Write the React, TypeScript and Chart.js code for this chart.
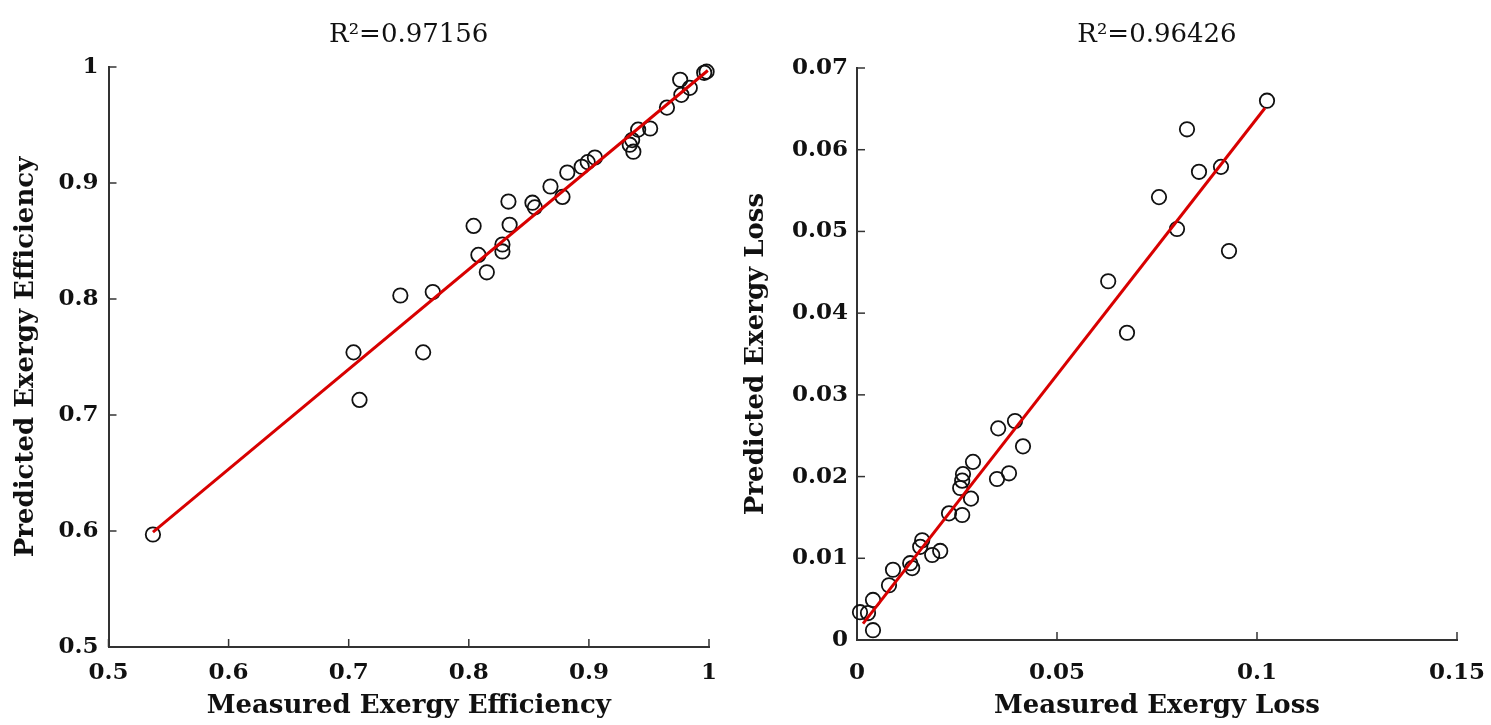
import React, { useEffect, useRef } from "react";
import { Chart, registerables } from "chart.js";

Chart.register(...registerables);
Chart.defaults.font.family = "'DejaVu Serif', serif";
Chart.defaults.color = "#111";

// ---- Left panel: exergy efficiency ----
const effMeasured = [
  0.537, 0.704, 0.709, 0.743, 0.762, 0.770, 0.804, 0.808, 0.815, 0.828, 0.828,
  0.833, 0.834, 0.853, 0.855, 0.868, 0.878, 0.882, 0.894, 0.899, 0.905, 0.934,
  0.937, 0.936, 0.941, 0.951, 0.965, 0.976, 0.977, 0.984, 0.996, 0.998,
];
const effPredicted = [
  0.597, 0.754, 0.713, 0.803, 0.754, 0.806, 0.863, 0.838, 0.823, 0.841, 0.847,
  0.884, 0.864, 0.883, 0.879, 0.897, 0.888, 0.909, 0.914, 0.918, 0.922, 0.933,
  0.927, 0.937, 0.946, 0.947, 0.965, 0.989, 0.976, 0.982, 0.995, 0.996,
];
const effFitX = [0.537, 0.999];
const effFitY = [0.599, 0.997];
const effTicks = [0.5, 0.6, 0.7, 0.8, 0.9, 1];
const effTitle = "R²=0.97156";
const effXLabel = "Measured Exergy Efficiency";
const effYLabel = "Predicted Exergy Efficiency";

// ---- Right panel: exergy loss ----
const lossMeasured = [
  0.1025, 0.0825, 0.0855, 0.091, 0.0755, 0.08, 0.093, 0.0628, 0.0675,
  0.0353, 0.0395, 0.0415, 0.035, 0.038, 0.029, 0.0265, 0.0263, 0.0258, 0.0285,
  0.023, 0.0263, 0.0163, 0.0158, 0.0188, 0.0208, 0.0133, 0.0138, 0.009, 0.008,
  0.004, 0.00075, 0.00275, 0.004,
];
const lossPredicted = [
  0.066, 0.0625, 0.0573, 0.0579, 0.0542, 0.0503, 0.0476, 0.0439, 0.0376,
  0.0259, 0.0268, 0.0237, 0.0197, 0.0204, 0.0218, 0.0203, 0.0195, 0.0186, 0.0173,
  0.0155, 0.0153, 0.0122, 0.0114, 0.0104, 0.0109, 0.0094, 0.0088, 0.0086, 0.0067,
  0.0049, 0.0034, 0.0033, 0.0012,
];
const lossFitX = [0.0015, 0.102];
const lossFitY = [0.002, 0.0651];
const lossXTicks = [0, 0.05, 0.1, 0.15];
const lossYTicks = [0, 0.01, 0.02, 0.03, 0.04, 0.05, 0.06, 0.07];
const lossTitle = "R²=0.96426";
const lossXLabel = "Measured Exergy Loss";
const lossYLabel = "Predicted Exergy Loss";

const innerTicks = {
  id: "innerTicks",
  afterDraw(chart: any) {
    const { ctx, chartArea, scales } = chart;
    const len = 8;
    ctx.save();
    ctx.strokeStyle = "#333";
    ctx.lineWidth = 1.5;
    scales.x.ticks.forEach((t: any) => {
      const px = scales.x.getPixelForValue(t.value);
      ctx.beginPath();
      ctx.moveTo(px, chartArea.bottom);
      ctx.lineTo(px, chartArea.bottom - len);
      ctx.stroke();
    });
    scales.y.ticks.forEach((t: any) => {
      const py = scales.y.getPixelForValue(t.value);
      ctx.beginPath();
      ctx.moveTo(chartArea.left, py);
      ctx.lineTo(chartArea.left + len, py);
      ctx.stroke();
    });
    ctx.restore();
  },
};

type PanelCfg = {
  width: number;
  height: number;
  xs: number[];
  ys: number[];
  fitX: number[];
  fitY: number[];
  xTicks: number[];
  yTicks: number[];
  title: string;
  xLabel: string;
  yLabel: string;
  yWidth: number;
  xHeight: number;
  padRight: number;
  titleTop: number;
  titleBottom: number;
  yTitlePad: number;
  xTitlePad: number;
  xTickPad: number;
  yTickPad: number;
};

function Panel({ cfg, left }: { cfg: PanelCfg; left: number }) {
  const ref = useRef<HTMLCanvasElement | null>(null);
  useEffect(() => {
    if (!ref.current) return;
    const tickFont = { family: "'DejaVu Serif', serif", size: 23, weight: "bold" as const };
    const labelFont = { family: "'DejaVu Serif', serif", size: 26, weight: "bold" as const, lineHeight: 1.2 };
    const chart = new Chart(ref.current, {
      type: "scatter",
      data: {
        datasets: [
          {
            data: cfg.fitX.map((x, i) => ({ x, y: cfg.fitY[i] })),
            showLine: true,
            borderColor: "#d80000",
            borderWidth: 3,
            pointRadius: 0,
            fill: false,
            clip: false,
          } as any,
          {
            data: cfg.xs.map((x, i) => ({ x, y: cfg.ys[i] })),
            pointStyle: "circle",
            pointRadius: 7.2,
            pointBorderWidth: 1.8,
            pointBorderColor: "#111",
            pointBackgroundColor: "rgba(0,0,0,0)",
            borderColor: "#111",
            backgroundColor: "rgba(0,0,0,0)",
            clip: false,
          } as any,
        ],
      },
      options: {
        animation: false,
        responsive: false,
        layout: { padding: { left: 0, right: cfg.padRight, top: 0, bottom: 0 } },
        plugins: {
          legend: { display: false },
          tooltip: { enabled: false },
          title: {
            display: true,
            text: cfg.title,
            fullSize: false,
            color: "#111",
            font: { family: "'DejaVu Serif', serif", size: 26, weight: "normal", lineHeight: 1.2 },
            padding: { top: cfg.titleTop, bottom: cfg.titleBottom },
          },
        },
        scales: {
          x: {
            type: "linear",
            min: cfg.xTicks[0],
            max: cfg.xTicks[cfg.xTicks.length - 1],
            afterBuildTicks: (s: any) => {
              s.ticks = cfg.xTicks.map((v) => ({ value: v }));
            },
            afterFit: (s: any) => {
              s.height = cfg.xHeight;
              s.paddingLeft = 0;
              s.paddingRight = 0;
            },
            grid: { display: true, drawOnChartArea: false, drawTicks: false },
            border: { display: true, color: "#333", width: 2 },
            ticks: {
              font: tickFont,
              color: "#111",
              padding: cfg.xTickPad,
              maxRotation: 0,
              autoSkip: false,
              callback: (v: any) => String(v),
            },
            title: {
              display: true,
              text: cfg.xLabel,
              color: "#111",
              font: labelFont,
              padding: { top: 0, bottom: cfg.xTitlePad },
            },
          },
          y: {
            type: "linear",
            min: cfg.yTicks[0],
            max: cfg.yTicks[cfg.yTicks.length - 1],
            afterBuildTicks: (s: any) => {
              s.ticks = cfg.yTicks.map((v) => ({ value: v }));
            },
            afterFit: (s: any) => {
              s.width = cfg.yWidth;
              s.paddingTop = 0;
              s.paddingBottom = 0;
            },
            grid: { display: true, drawOnChartArea: false, drawTicks: false },
            border: { display: true, color: "#333", width: 2 },
            ticks: {
              font: tickFont,
              color: "#111",
              padding: cfg.yTickPad,
              autoSkip: false,
              callback: (v: any) => String(v),
            },
            title: {
              display: true,
              text: cfg.yLabel,
              color: "#111",
              font: labelFont,
              padding: { top: cfg.yTitlePad, bottom: 0 },
            },
          },
        },
      },
      plugins: [innerTicks],
    });
    return () => chart.destroy();
  }, [cfg]);
  return (
    <canvas
      ref={ref}
      width={cfg.width}
      height={cfg.height}
      style={{ position: "absolute", left, top: 0, width: cfg.width, height: cfg.height }}
    />
  );
}

const leftCfg: PanelCfg = {
  width: 745,
  height: 725,
  xs: effMeasured,
  ys: effPredicted,
  fitX: effFitX,
  fitY: effFitY,
  xTicks: effTicks,
  yTicks: effTicks,
  title: effTitle,
  xLabel: effXLabel,
  yLabel: effYLabel,
  yWidth: 108.5,
  xHeight: 78,
  padRight: 36,
  titleTop: 20,
  titleBottom: 15.8,
  yTitlePad: 11,
  xTitlePad: 3,
  xTickPad: 12,
  yTickPad: 10,
};

const rightCfg: PanelCfg = {
  width: 756,
  height: 725,
  xs: lossMeasured,
  ys: lossPredicted,
  fitX: lossFitX,
  fitY: lossFitY,
  xTicks: lossXTicks,
  yTicks: lossYTicks,
  title: lossTitle,
  xLabel: lossXLabel,
  yLabel: lossYLabel,
  yWidth: 122,
  xHeight: 85,
  padRight: 34,
  titleTop: 20,
  titleBottom: 16.8,
  yTitlePad: 5.4,
  xTitlePad: 3,
  xTickPad: 19,
  yTickPad: 9,
};

export default function App() {
  return (
    <div
      style={{
        position: "absolute",
        left: 0,
        top: 0,
        width: 1491,
        height: 725,
        background: "#fff",
        overflow: "hidden",
      }}
    >
      <Panel cfg={leftCfg} left={0} />
      <Panel cfg={rightCfg} left={735} />
    </div>
  );
}
